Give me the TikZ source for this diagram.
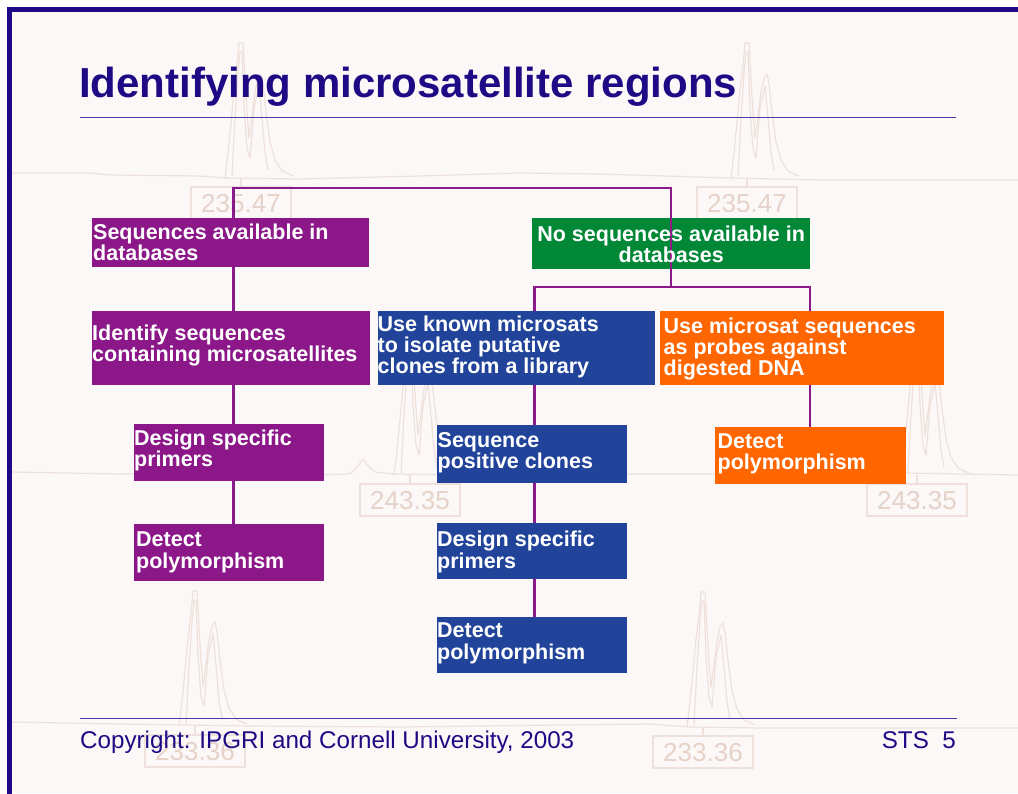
\documentclass[tikz,border=0pt]{standalone}
\usepackage{fontspec}
\setmainfont{Liberation Sans}
\definecolor{frameblue}{HTML}{1E0A84}
\definecolor{rulecol}{HTML}{4A3AA8}
\definecolor{pagebg}{HTML}{FBF8F7}
\definecolor{purp}{HTML}{8B1789}
\definecolor{bluebox}{HTML}{21449A}
\definecolor{greenbox}{HTML}{008837}
\definecolor{orangebox}{HTML}{FF6600}
\definecolor{connc}{HTML}{8B1A8B}
\definecolor{wmc}{HTML}{EEE1DB}
\definecolor{wmt}{HTML}{E6D2C9}
\newcommand\ltxt[1]{\parbox[t]{300pt}{\raggedright #1}}
\newcommand\ctxt[2]{\parbox[t]{#1}{\centering #2}}
\tikzset{
  box/.style={fill=#1, draw=none, anchor=north west, inner sep=0pt, outer sep=0pt},
  lbl/.style={anchor=base west, inner sep=0pt, text=white,
    font=\fontsize{21.5}{21.3}\selectfont\bfseries},
  conn/.style={draw=connc, line width=2.2pt},
  wm/.style={draw=wmc, line width=1.2pt, line join=round},
  wmbox/.style={draw=wmc, line width=1.5pt},
  pics/trace/.style={code={
    \draw[wm] (-16,0) -- (-13,-25) -- (-10,-55) -- (-7,-88) -- (-4,-112) -- (-2,-135)
      -- (2,-135) -- (4,-98) -- (6,-66) -- (8,-40) -- (11,-62) -- (14,-86) -- (17,-100)
      -- (20,-104) -- (22,-94) -- (25,-66) -- (29,-36) -- (34,-18) -- (41,-7) -- (52,-2);
    \draw[wm] (-9,-2) -- (-6,-60) -- (-3,-105) -- (-1,-126) -- (1,-126) -- (3,-70)
      -- (6,-30) -- (9,-20) -- (13,-70) -- (18,-92) -- (21,-60) -- (24,-25) -- (27,-8);
    \draw[wmbox] (-50,9) rectangle (50,41);
    \draw[wm] (0,0) -- (0,9);
    \node[text=wmt, font=\fontsize{26}{26}\selectfont, inner sep=0pt] (lab) at (0,25.5) {#1};
  }}
}
\begin{document}
\begin{tikzpicture}[x=1pt,y=-1pt]
\useasboundingbox (0,0) rectangle (1018,793);
% page
\fill[white] (0,0) rectangle (1018,793);
\fill[pagebg] (9,9) rectangle (1018,793);

% faint chromatogram wallpaper
\draw[wm] (12,173) -- (90,173) -- (110,175) -- (200,176) -- (225,178) -- (300,179) -- (420,176) -- (520,173) -- (600,174) -- (730,178) -- (820,180) -- (1018,180);
\draw[wm] (12,472) -- (120,474) -- (300,475) -- (350,474) -- (358,466) -- (363,459) -- (368,466) -- (375,472) -- (395,474) -- (520,476) -- (600,474) -- (860,474) -- (905,473) -- (1018,475);
\draw[wm] (12,722) -- (120,724) -- (250,726) -- (400,727) -- (560,725) -- (650,724) -- (690,727) -- (760,728) -- (1018,728);
\pic (wa1) at (241,178) {trace={235.47}};
\pic (wa2) at (747,178) {trace={235.47}};
\pic (wb1) at (410,475) {trace={243.35}};
\pic (wb2) at (917,475) {trace={243.35}};
\pic (wc1) at (195,726) {trace={233.36}};
\pic (wc2) at (703,727) {trace={233.36}};

% heading
\node[anchor=base west, inner sep=0pt, text=frameblue,
      font=\fontsize{42}{42}\selectfont\bfseries] (title) at (79,97.5) {Identifying microsatellite regions};
\coordinate (hr1) at (80,117.7);
\coordinate (hr2) at (956,117.7);
\draw[rulecol, line width=1.2pt] (hr1) -- (hr2);

% boxes
\node[box=purp,      minimum width=277pt,   minimum height=49pt]   (seqavail) at (92,218) {};
\node[box=greenbox,  minimum width=278pt,   minimum height=51pt]   (noseq)    at (532,218) {};
\node[box=purp,      minimum width=278pt,   minimum height=74pt]   (identify) at (92,311) {};
\node[box=bluebox,   minimum width=277.5pt, minimum height=74pt]   (known)    at (377.5,311) {};
\node[box=orangebox, minimum width=283.5pt, minimum height=74pt]   (probes)   at (660,311) {};
\node[box=purp,      minimum width=190.5pt, minimum height=57.5pt] (designA)  at (133.5,423.5) {};
\node[box=purp,      minimum width=190.5pt, minimum height=57.5pt] (detectA)  at (133.5,523.5) {};
\node[box=bluebox,   minimum width=190pt,   minimum height=57.5pt] (seqpos)   at (437,425) {};
\node[box=bluebox,   minimum width=190pt,   minimum height=56.5pt] (designB)  at (436.5,522.5) {};
\node[box=bluebox,   minimum width=190pt,   minimum height=56.6pt] (detectB)  at (436.5,616.7) {};
\node[box=orangebox, minimum width=191pt,   minimum height=57pt]   (detectC)  at (715,427.3) {};

% connector guides
\coordinate (L1) at (233.5,0);
\coordinate (L2) at (534.5,0);
\coordinate (L3) at (810,0);
\coordinate (topbar) at (0,188);
\coordinate (fork) at (671,287.3);

% connectors
\draw[conn] (seqavail.north -| L1) -- (L1 |- topbar) -- (fork |- topbar) -- (fork);
\draw[conn] (known.north -| L2) -- (L2 |- fork) -- (L3 |- fork) -- (probes.north -| L3);
\draw[conn] (seqavail.south -| L1) -- (identify.north -| L1);
\draw[conn] (identify.south -| L1) -- (designA.north -| L1);
\draw[conn] (designA.south -| L1) -- (detectA.north -| L1);
\draw[conn] (known.south -| L2) -- (seqpos.north -| L2);
\draw[conn] (seqpos.south -| L2) -- (designB.north -| L2);
\draw[conn] (designB.south -| L2) -- (detectB.north -| L2);
\draw[conn] (probes.south -| L3) -- (detectC.north -| L3);

% box texts
\node[lbl] (seqavailT) at (93,239.5) {\ltxt{Sequences available in\\databases}};
\node[lbl] (noseqT)    at (532,241.5) {\ctxt{278pt}{No sequences available in\\databases}};
\node[lbl] (identifyT) at (92,340) {\ltxt{Identify sequences\\containing microsatellites}};
\node[lbl] (knownT)    at (377.5,331) {\ltxt{Use known microsats\\to isolate putative\\clones from a library}};
\node[lbl] (probesT)   at (663.5,333) {\ltxt{Use microsat sequences\\as probes against\\digested DNA}};
\node[lbl] (designAT)  at (134,445.5) {\ltxt{Design specific\\primers}};
\node[lbl] (detectAT)  at (136,546.7) {\ltxt{Detect\\polymorphism}};
\node[lbl] (seqposT)   at (437.5,447.3) {\ltxt{Sequence\\positive clones}};
\node[lbl] (designBT)  at (437,546.7) {\ltxt{Design specific\\primers}};
\node[lbl] (detectBT)  at (437,637.7) {\ltxt{Detect\\polymorphism}};
\node[lbl] (detectCT)  at (717.5,448.3) {\ltxt{Detect\\polymorphism}};

% footer
\coordinate (fr1) at (80,718.7);
\coordinate (fr2) at (956.5,718.7);
\draw[rulecol, line width=1.2pt] (fr1) -- (fr2);
\node[anchor=base west, inner sep=0pt, text=frameblue, font=\fontsize{24.2}{24.2}\selectfont] (copy) at (80,748.3) {Copyright: IPGRI and Cornell University, 2003};
\node[anchor=base east, inner sep=0pt, text=frameblue, font=\fontsize{24.2}{24.2}\selectfont] (slide) at (956,748.3) {STS\ \ 5};

% frame
\draw[frameblue, line width=5pt] (9,800) -- (9,9) -- (1025,9);
\end{tikzpicture}
\end{document}
